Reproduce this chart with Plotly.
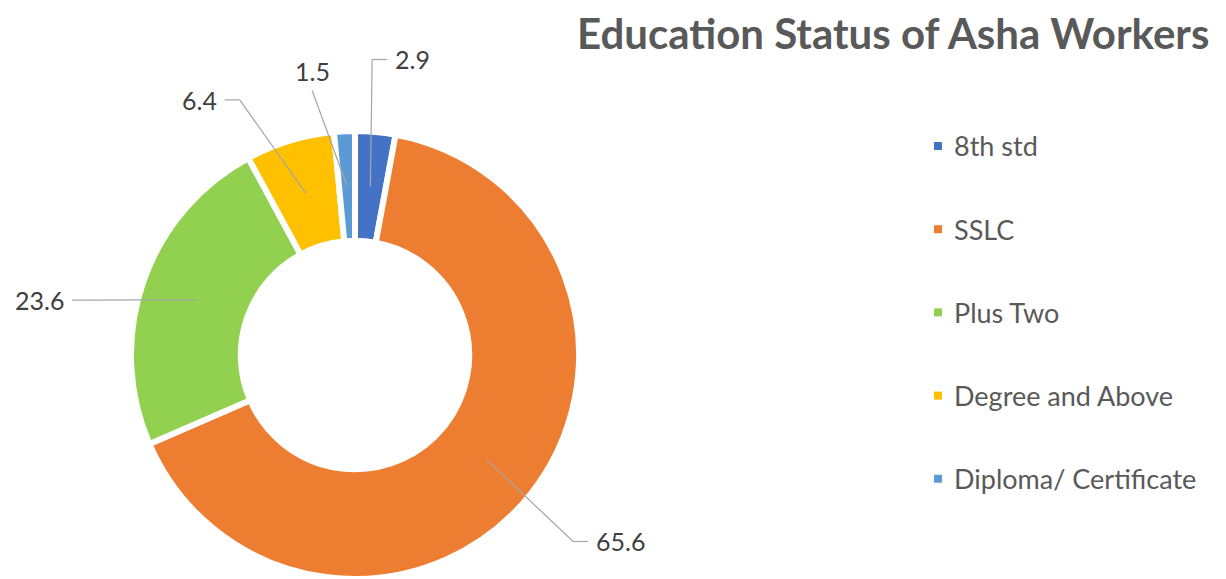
import math
import plotly.graph_objects as go

# Education levels and share of workers (%)
categories = ["8th std", "SSLC", "Plus Two", "Degree and Above", "Diploma/ Certificate"]
values = [2.9, 65.6, 23.6, 6.4, 1.5]
value_labels = ["2.9", "65.6", "23.6", "6.4", "1.5"]

colors = ["#4472C4", "#ED7D31", "#92D050", "#FFC000", "#5B9BD5"]

W, H = 1226, 579
CX, CY = 355, 355          # donut centre, px from top-left
R = 224                    # donut outer radius, px
HOLE = 0.51
GAP = 6                    # white separator between slices

# callout elbow placement: (angle shift in degrees, radius px) and side of the text
callout_shift = [-1.9, 2.0, -7.5, -7.4, -6.5]
callout_radius = [296, 287, 273.6, 280, 268]
callout_side = ["right", "right", "left", "left", "top"]

TEXT = "#404040"
LINE = "#A6A6A6"
FONT = "Lato"


def to_paper(px, py):
    return px / W, 1 - py / H


fig = go.Figure(
    go.Pie(
        labels=categories,
        values=values,
        sort=False,
        direction="clockwise",
        rotation=0,
        hole=HOLE,
        marker=dict(colors=colors, line=dict(color="white", width=GAP)),
        textinfo="none",
        hoverinfo="label+value",
        showlegend=False,
        domain=dict(x=[(CX - R) / W, (CX + R) / W], y=[(H - CY - R) / H, (H - CY + R) / H]),
    )
)

shapes = []
annotations = []

total = sum(values)
start = 0.0
mid_r = R * (1 + HOLE) / 2
for i, v in enumerate(values):
    frac = v / total
    mid = (start + frac / 2) * 360.0
    start += frac
    a = math.radians(mid)
    ax, ay = CX + mid_r * math.sin(a), CY - mid_r * math.cos(a)
    e = math.radians(mid + callout_shift[i])
    ex, ey = CX + callout_radius[i] * math.sin(e), CY - callout_radius[i] * math.cos(e)

    pts = [(ax, ay), (ex, ey)]
    side = callout_side[i]
    if side == "right":
        pts.append((ex + 15, ey))
        tx, ty, xa, ya = ex + 21, ey, "left", "middle"
    elif side == "left":
        pts.append((ex - 15, ey))
        tx, ty, xa, ya = ex - 21, ey, "right", "middle"
    else:
        tx, ty, xa, ya = ex, ey - 2, "center", "bottom"

    for (x0, y0), (x1, y1) in zip(pts[:-1], pts[1:]):
        p0 = to_paper(x0, y0)
        p1 = to_paper(x1, y1)
        shapes.append(dict(type="line", xref="paper", yref="paper",
                           x0=p0[0], y0=p0[1], x1=p1[0], y1=p1[1],
                           line=dict(color=LINE, width=1.2), layer="above"))
    px, py = to_paper(tx, ty)
    annotations.append(dict(x=px, y=py, xref="paper", yref="paper", text=value_labels[i],
                            showarrow=False, xanchor=xa, yanchor=ya,
                            font=dict(family=FONT, size=25, color=TEXT)))

# legend drawn as coloured squares with text
LEG_X, LEG_Y0, LEG_STEP, SQ = 934, 146, 83.2, 8
for i, (cat, col) in enumerate(zip(categories, colors)):
    yc = LEG_Y0 + i * LEG_STEP
    x0, y0 = to_paper(LEG_X, yc - SQ / 2)
    x1, y1 = to_paper(LEG_X + SQ, yc + SQ / 2)
    shapes.append(dict(type="rect", xref="paper", yref="paper", x0=x0, y0=y0, x1=x1, y1=y1,
                       fillcolor=col, line=dict(width=0)))
    tx, ty = to_paper(LEG_X + 18, yc)
    annotations.append(dict(x=tx, y=ty, xref="paper", yref="paper", text=cat, showarrow=False,
                            xanchor="left", yanchor="middle",
                            font=dict(family=FONT, size=27, color="#595959")))

# chart title
tx, ty = to_paper(893, 33)
annotations.append(dict(x=tx, y=ty, xref="paper", yref="paper",
                        text="<b>Education Status of Asha Workers</b>", showarrow=False,
                        xanchor="center", yanchor="middle",
                        font=dict(family=FONT, size=42, color="#595959")))

fig.update_layout(
    width=W, height=H,
    margin=dict(l=0, r=0, t=0, b=0),
    paper_bgcolor="white",
    plot_bgcolor="white",
    shapes=shapes,
    annotations=annotations,
    showlegend=False,
)

fig.write_html("out.html")
